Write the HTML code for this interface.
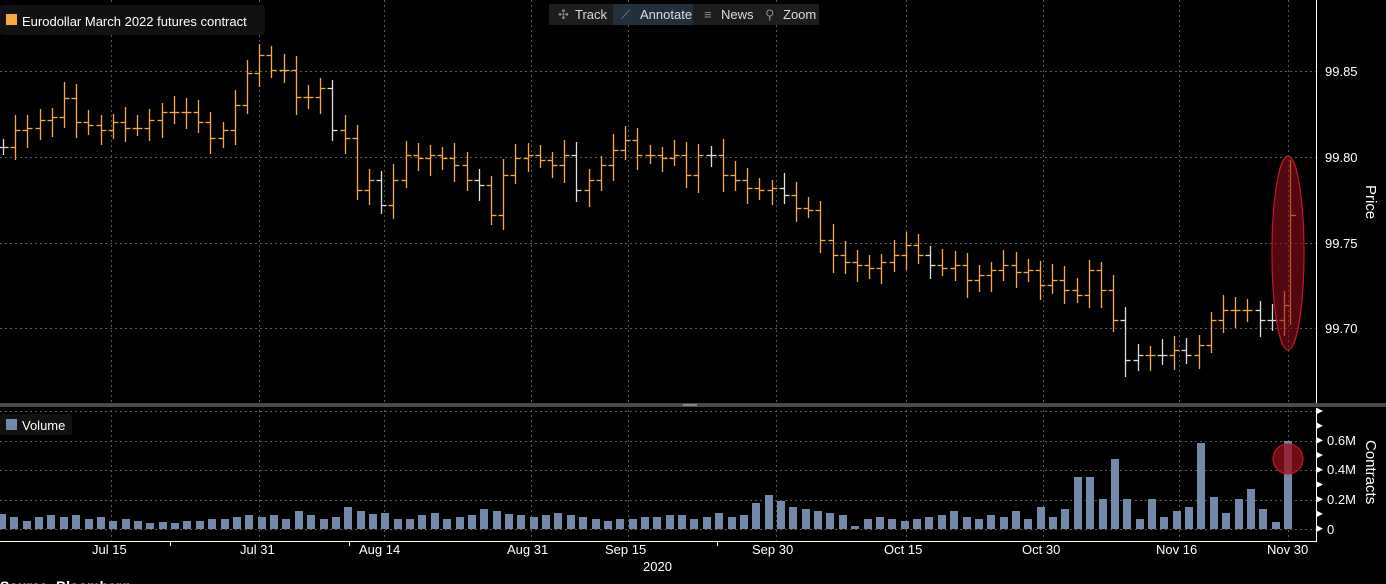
<!DOCTYPE html>
<html><head><meta charset="utf-8"><style>
html,body{margin:0;padding:0;background:#000;width:1386px;height:584px;overflow:hidden}
svg{display:block;font-family:"Liberation Sans",sans-serif}
</style></head><body>
<svg id="s" width="1386" height="584" xmlns="http://www.w3.org/2000/svg">
<rect width="1386" height="584" fill="#000"/>
<g id="grid" stroke="#5a5a5a" stroke-dasharray="2,3" stroke-width="1"></g>
<g id="bars" stroke="#f7a941" stroke-width="1.3"></g>
<g id="vol" fill="#7389ab"></g>
<rect x="0" y="403" width="1386" height="4" fill="#4a4a4a"/>
<rect x="683" y="404" width="14" height="2" fill="#888"/>
<line x1="1316.5" y1="0" x2="1316.5" y2="403" stroke="#fff"/>
<line x1="1316.5" y1="408" x2="1316.5" y2="541" stroke="#fff"/>
<line x1="0" y1="541.5" x2="1317" y2="541.5" stroke="#fff"/>
<g fill="#fff" font-size="13">
<text x="1325" y="76">99.85</text><text x="1325" y="162">99.80</text>
<text x="1325" y="248">99.75</text><text x="1325" y="333">99.70</text>
<text x="1327" y="445">0.6M</text><text x="1327" y="474">0.4M</text>
<text x="1327" y="504">0.2M</text><text x="1327" y="534">0</text>
<text x="1366" y="185" font-size="15" transform="rotate(90 1366 185)">Price</text>
<text x="1366" y="440" font-size="15" transform="rotate(90 1366 440)">Contracts</text>
<text x="92" y="554">Jul 15</text><text x="240" y="554">Jul 31</text>
<text x="359" y="554">Aug 14</text><text x="507" y="554">Aug 31</text>
<text x="605" y="554">Sep 15</text><text x="752" y="554">Sep 30</text>
<text x="884" y="554">Oct 15</text><text x="1022" y="554">Oct 30</text>
<text x="1156" y="554">Nov 16</text><text x="1267" y="554">Nov 30</text>
<text x="643" y="571">2020</text>
<text x="0" y="591" font-weight="bold" font-size="14">Source: Bloomberg</text>
</g>
<g id="ticks" fill="#fff"></g>
<rect x="0" y="5" width="265" height="30" fill="#111" rx="3"/>
<rect x="6" y="14" width="11" height="11" fill="#f7a941"/>
<text x="22" y="26" fill="#fff" font-size="13">Eurodollar March 2022 futures contract</text>
<rect x="0" y="414" width="72" height="21" fill="#111" rx="2"/>
<rect x="6" y="419" width="11" height="11" fill="#7389ab"/>
<text x="22" y="430" fill="#fff" font-size="13">Volume</text>
<rect x="549" y="4" width="270" height="21" fill="#1d1d1d"/>
<rect x="613" y="4" width="80" height="21" fill="#22303e"/>
<g fill="#ddd" font-size="13">
<text x="558" y="19" fill="#888">✣</text><text x="575" y="19">Track</text>
<text x="621" y="19" fill="#888">⟋</text><text x="640" y="19">Annotate</text>
<text x="704" y="19" fill="#888">≡</text><text x="721" y="19">News</text>
<text x="765" y="19" fill="#888">⚲</text><text x="783" y="19">Zoom</text>
</g>
<ellipse cx="1288" cy="253" rx="16" ry="97" fill="rgba(150,15,25,0.55)" stroke="#c01828" stroke-width="1.2"/>
<circle cx="1288" cy="459" r="15" fill="rgba(150,15,25,0.75)" stroke="#c01828" stroke-width="1.2"/>
</svg>
<script>
var NS="http://www.w3.org/2000/svg";
function el(p,t,a){var e=document.createElementNS(NS,t);for(var k in a)e.setAttribute(k,a[k]);document.getElementById(p).appendChild(e);}
[111,259,384,531,628,776,906,1043,1179,1288].forEach(function(x){el("grid","line",{x1:x+.5,y1:0,x2:x+.5,y2:541});});
[71,157,243,328].forEach(function(y){el("grid","line",{x1:0,y1:y+.5,x2:1316,y2:y+.5});});
[441,470,500,529].forEach(function(y){el("grid","line",{x1:0,y1:y+.5,x2:1316,y2:y+.5});});
el("grid","line",{x1:0,y1:411.5,x2:1316,y2:411.5});
var c=[147,130,128,120,117,98,122,125,130,122,128,128,120,112,112,112,122,138,130,105,73,55,70,70,97,97,88,130,138,190,180,205,180,155,158,155,158,165,180,185,215,175,158,155,160,165,155,190,180,165,150,140,155,155,158,155,175,155,155,175,180,188,190,188,195,208,210,240,255,262,265,268,262,255,245,255,265,268,265,280,275,270,265,272,270,285,280,290,295,270,290,320,360,355,355,355,350,355,345,320,310,310,310,320,320,305];
var white={0:1,27:1,31:1,39:1,47:1,58:1,64:1,76:1,92:1,93:1,95:1,97:1,103:1,104:1};
var prev=c[0];
for(var i=0;i<c.length;i++){
 var x=Math.round(3+i*12.2)+.5,o=prev,cl=c[i];
 var hi=Math.min(o,cl)-8-(i*7%9),lo=Math.max(o,cl)+8+(i*5%11);
 var col=white[i]?"#ddd":"#f7a941";
 el("bars","line",{x1:x,y1:hi,x2:x,y2:lo,stroke:col});
 el("bars","line",{x1:x-5,y1:o+.5,x2:x,y2:o+.5,stroke:col});
 el("bars","line",{x1:x,y1:cl+.5,x2:x+5,y2:cl+.5,stroke:col});
 prev=cl;
}
el("bars","line",{x1:1290.5,y1:160,x2:1290.5,y2:325});
el("bars","line",{x1:1290.5,y1:215.5,x2:1296,y2:215.5});
var v=[15,12,8,12,14,12,14,10,12,8,10,8,6,7,6,8,8,10,10,12,14,12,14,10,18,14,10,12,22,18,15,16,10,10,14,16,10,12,14,20,18,15,14,12,14,16,14,12,10,8,10,10,12,12,14,14,10,12,16,12,14,26,34,28,22,20,18,16,14,3,10,12,10,8,10,12,14,18,12,10,14,12,18,10,22,12,20,52,52,30,70,30,10,30,12,18,22,86,32,16,30,40,20,7,88];
for(var i=0;i<v.length;i++){
 var x=Math.round(2+i*(1286/(v.length-1)));
 el("vol","rect",{x:x-4,y:529-v[i],width:8,height:v[i]});
}
for(var y=411;y<=530;y+=14.7){el("ticks","polygon",{points:"1317,"+(y-3)+" 1323,"+y+" 1317,"+(y+3)});}
[170,349,717].forEach(function(x){el("ticks","rect",{x:x,y:542,width:1,height:4});});
</script>
</body></html>
